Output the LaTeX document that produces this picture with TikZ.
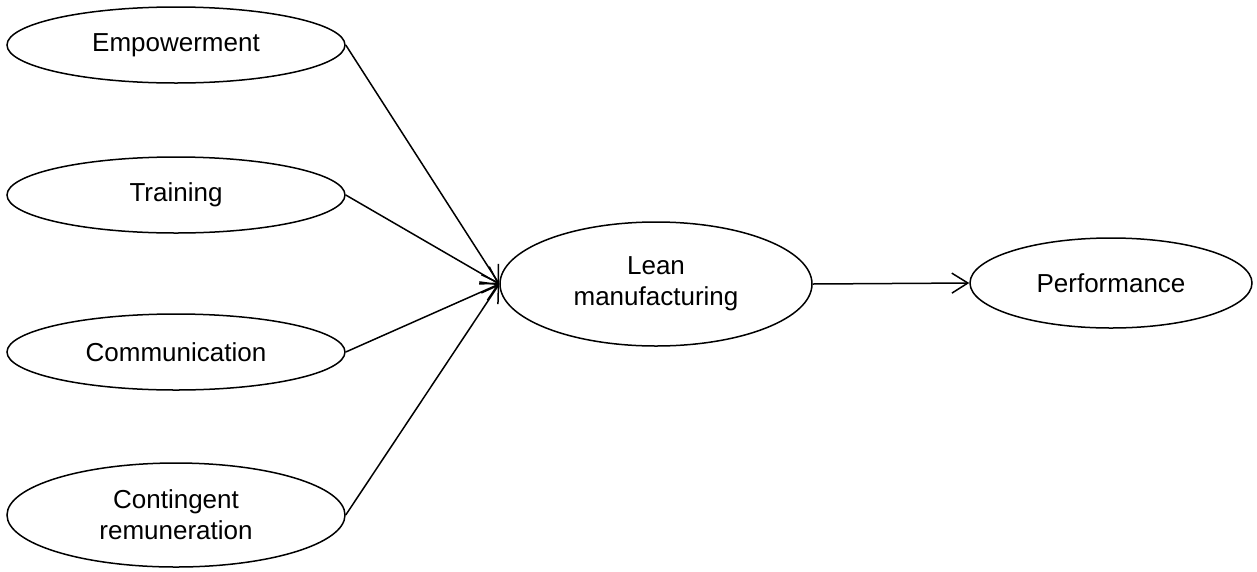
\documentclass[tikz,border=0pt]{standalone}
\usepackage{fontspec}
\setmainfont{Liberation Sans}
\usetikzlibrary{shapes.geometric,arrows.meta}
\begin{document}
\begin{tikzpicture}[x=1pt,y=-1pt,
  construct/.style={ellipse,draw,line width=1.5pt,inner sep=0pt,align=center,
    font=\fontsize{26}{31}\selectfont},
  link/.style={line width=1.5pt,-{Straight Barb[length=16pt,width=20pt,line width=1.5pt]}}]
  \useasboundingbox (0,0) rectangle (1257,571);
  % antecedents
  \node[construct,minimum width=338pt,minimum height=76pt] (emp) at (176,45) {Empowerment};
  \node[construct,minimum width=338pt,minimum height=76pt] (tra) at (176,195) {Training};
  \node[construct,minimum width=338pt,minimum height=76pt] (com) at (176,352) {Communication};
  \node[construct,minimum width=338pt,minimum height=104pt] (con) at (176,515) {Contingent\\remuneration};
  % mediator and outcome
  \node[construct,minimum width=312pt,minimum height=124pt] (lean) at (656,284) {Lean\\manufacturing};
  \node[construct,minimum width=282pt,minimum height=90pt] (perf) at (1111,283) {Performance};
  % paths
  \draw[link] (emp.east) -- (lean.west);
  \draw[link] (tra.east) -- (lean.west);
  \draw[link] (com.east) -- (lean.west);
  \draw[link] (con.east) -- (lean.west);
  \draw[link] (lean.east) -- (perf.west);
\end{tikzpicture}
\end{document}
